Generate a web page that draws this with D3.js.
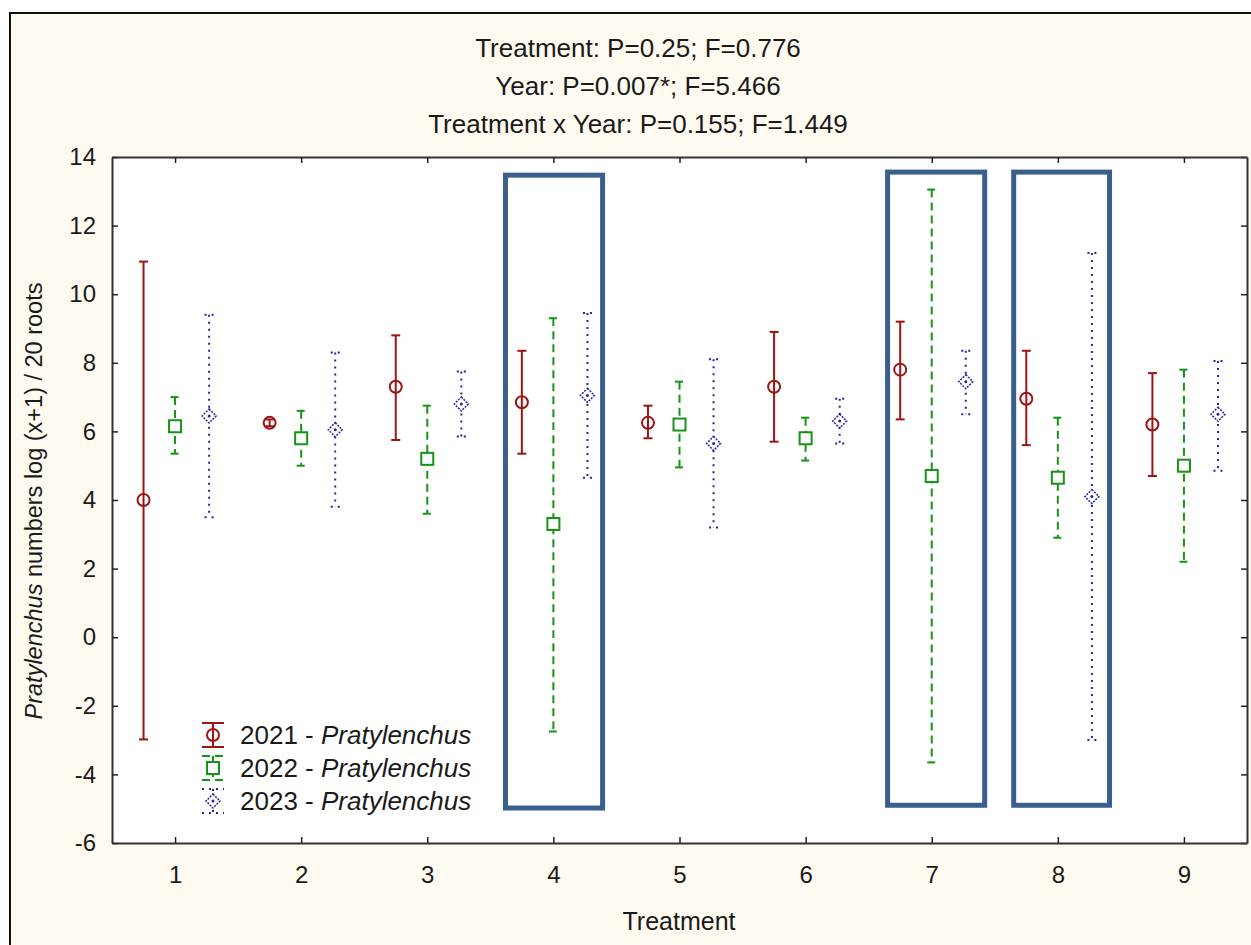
<!DOCTYPE html>
<html>
<head>
<meta charset="utf-8">
<script src="https://cdn.jsdelivr.net/npm/d3@7"></script>
<style>
  body { margin: 0; background: #fff; }
  text { font-family: "Liberation Sans", Arial, sans-serif; fill: #1a1a1a; }
</style>
</head>
<body>
<svg id="chart" width="1251" height="945"></svg>
<script>
// data
const treatments = [1, 2, 3, 4, 5, 6, 7, 8, 9];
const years = ["2021", "2022", "2023"];
const mean2021  = [4.0, 6.25, 7.3, 6.85, 6.25, 7.3, 7.8, 6.95, 6.2];
const upper2021 = [10.95, 6.35, 8.8, 8.35, 6.75, 8.9, 9.2, 8.35, 7.7];
const lower2021 = [-2.98, 6.15, 5.75, 5.35, 5.8, 5.7, 6.35, 5.6, 4.7];
const mean2022  = [6.15, 5.8, 5.2, 3.3, 6.2, 5.8, 4.7, 4.65, 5.0];
const upper2022 = [7.0, 6.6, 6.75, 9.3, 7.45, 6.4, 13.05, 6.4, 7.8];
const lower2022 = [5.35, 5.0, 3.6, -2.75, 4.95, 5.15, -3.65, 2.9, 2.2];
const mean2023  = [6.45, 6.05, 6.8, 7.05, 5.65, 6.3, 7.45, 4.1, 6.5];
const upper2023 = [9.4, 8.3, 7.75, 9.45, 8.1, 6.95, 8.35, 11.2, 8.05];
const lower2023 = [3.5, 3.8, 5.85, 4.65, 3.2, 5.65, 6.5, -3.0, 4.85];
const yTicks = [-6, -4, -2, 0, 2, 4, 6, 8, 10, 12, 14];
const titleLines = [
  "Treatment: P=0.25; F=0.776",
  "Year: P=0.007*; F=5.466",
  "Treatment x Year: P=0.155; F=1.449"
];
// highlighted treatments [x0, x1, y0, y1] in data units
const highlightBoxes = [
  [3.62, 4.39, -4.98, 13.47],
  [6.65, 7.42, -4.9, 13.56],
  [7.65, 8.41, -4.9, 13.56]
];

const series = [
  { year: years[0], mean: mean2021, upper: upper2021, lower: lower2021, color: "#9e1414", dash: null, shape: "circle", offset: -0.25 },
  { year: years[1], mean: mean2022, upper: upper2022, lower: lower2022, color: "#169416", dash: "8,5", shape: "square", offset: 0 },
  { year: years[2], mean: mean2023, upper: upper2023, lower: lower2023, color: "#2424a4", dash: "2,5", shape: "diamond", offset: 0.27 }
];

const svg = d3.select("#chart");
const plotLeft = 112, plotTop = 157, plotRight = 1247, plotBottom = 843;

// outer cream frame
svg.append("rect")
  .attr("x", 10).attr("y", 13).attr("width", 1260).attr("height", 960)
  .attr("fill", "#fffaf0").attr("stroke", "#111").attr("stroke-width", 2);

svg.append("rect")
  .attr("x", plotLeft).attr("y", plotTop)
  .attr("width", plotRight - plotLeft).attr("height", plotBottom - plotTop)
  .attr("fill", "#fff");

const x = d3.scaleLinear().domain([0.5, 9.5]).range([plotLeft, plotRight]);
const y = d3.scaleLinear().domain([-6, 14]).range([plotBottom, plotTop]);

// axes, ticks inward
function styleAxis(g) {
  g.select(".domain").attr("stroke", "#333").attr("stroke-width", 2);
  g.selectAll(".tick line").attr("stroke", "#222").attr("stroke-width", 1.5);
  g.selectAll("text").style("font-size", "24px").attr("fill", "#1a1a1a");
}
svg.append("g").attr("transform", `translate(${plotLeft},0)`)
  .call(d3.axisLeft(y).tickValues(yTicks).tickFormat(d => String(d))
    .tickSize(-6).tickPadding(16).tickSizeOuter(0))
  .call(styleAxis);
svg.append("g").attr("transform", `translate(${plotRight},0)`)
  .call(d3.axisRight(y).tickValues(yTicks).tickSize(-6).tickFormat("").tickSizeOuter(0))
  .call(styleAxis);
svg.append("g").attr("transform", `translate(0,${plotBottom})`)
  .call(d3.axisBottom(x).tickValues(treatments).tickFormat(d => String(d))
    .tickSize(-6).tickPadding(23).tickSizeOuter(0))
  .call(styleAxis);
svg.append("g").attr("transform", `translate(0,${plotTop})`)
  .call(d3.axisTop(x).tickValues(treatments).tickSize(-6).tickFormat("").tickSizeOuter(0))
  .call(styleAxis);

// titles
svg.append("g").selectAll("text")
  .data(titleLines)
  .enter().append("text")
  .attr("x", 638)
  .attr("y", (d, i) => 57 + i * 38)
  .attr("text-anchor", "middle")
  .style("font-size", "26px")
  .text(d => d);

svg.append("text")
  .attr("x", 679).attr("y", 930)
  .attr("text-anchor", "middle")
  .style("font-size", "25px")
  .text("Treatment");

const ylab = svg.append("text")
  .attr("transform", "translate(42,501) rotate(-90)")
  .attr("text-anchor", "middle")
  .style("font-size", "23.5px");
ylab.append("tspan").style("font-style", "italic").text("Pratylenchus");
ylab.append("tspan").text(" numbers log (x+1) / 20 roots");

function drawMarker(g, shape, cx, cy, color) {
  if (shape === "circle") {
    g.append("circle").attr("cx", cx).attr("cy", cy).attr("r", 6)
      .attr("fill", "none").attr("stroke", color).attr("stroke-width", 2);
  } else if (shape === "square") {
    g.append("rect").attr("x", cx - 6).attr("y", cy - 6).attr("width", 12).attr("height", 12)
      .attr("fill", "#fff").attr("stroke", color).attr("stroke-width", 2);
  } else {
    g.append("path").attr("d", `M${cx},${cy - 7}L${cx + 7},${cy}L${cx},${cy + 7}L${cx - 7},${cy}Z`)
      .attr("fill", "#fff").attr("stroke", color).attr("stroke-width", 1.5)
      .attr("stroke-dasharray", "2,1.2");
    g.append("circle").attr("cx", cx).attr("cy", cy).attr("r", 1.5).attr("fill", color);
  }
}

function drawErrorBar(g, s, cx, yTop, yBot, yMid, capW) {
  g.append("line")
    .attr("x1", cx).attr("x2", cx).attr("y1", yTop).attr("y2", yBot)
    .attr("stroke", s.color).attr("stroke-width", 2)
    .attr("stroke-dasharray", s.dash);
  [yTop, yBot].forEach(cy => {
    g.append("line")
      .attr("x1", cx - capW / 2).attr("x2", cx + capW / 2).attr("y1", cy).attr("y2", cy)
      .attr("stroke", s.color).attr("stroke-width", 2)
      .attr("stroke-dasharray", s.dash);
  });
  drawMarker(g, s.shape, cx, yMid, s.color);
}

series.forEach(s => {
  const g = svg.append("g");
  treatments.forEach((t, i) => {
    drawErrorBar(g, s, x(t + s.offset), y(s.upper[i]), y(s.lower[i]), y(s.mean[i]), 9);
  });
});

// highlight boxes
svg.append("g").selectAll("rect")
  .data(highlightBoxes)
  .enter().append("rect")
  .attr("x", d => x(d[0]))
  .attr("y", d => y(d[3]))
  .attr("width", d => x(d[1]) - x(d[0]))
  .attr("height", d => y(d[2]) - y(d[3]))
  .attr("fill", "none")
  .attr("stroke", "#3b5f8c")
  .attr("stroke-width", 5);

// legend
const legend = svg.append("g");
series.forEach((s, i) => {
  const cy = 735 + i * 33;
  const g = legend.append("g");
  drawErrorBar(g, s, 213, cy - 12, cy + 12, cy, 22);
  const t = g.append("text").attr("x", 240).attr("y", cy + 9).style("font-size", "26px");
  t.append("tspan").text(s.year + " - ");
  t.append("tspan").style("font-style", "italic").text("Pratylenchus");
});
</script>
</body>
</html>
